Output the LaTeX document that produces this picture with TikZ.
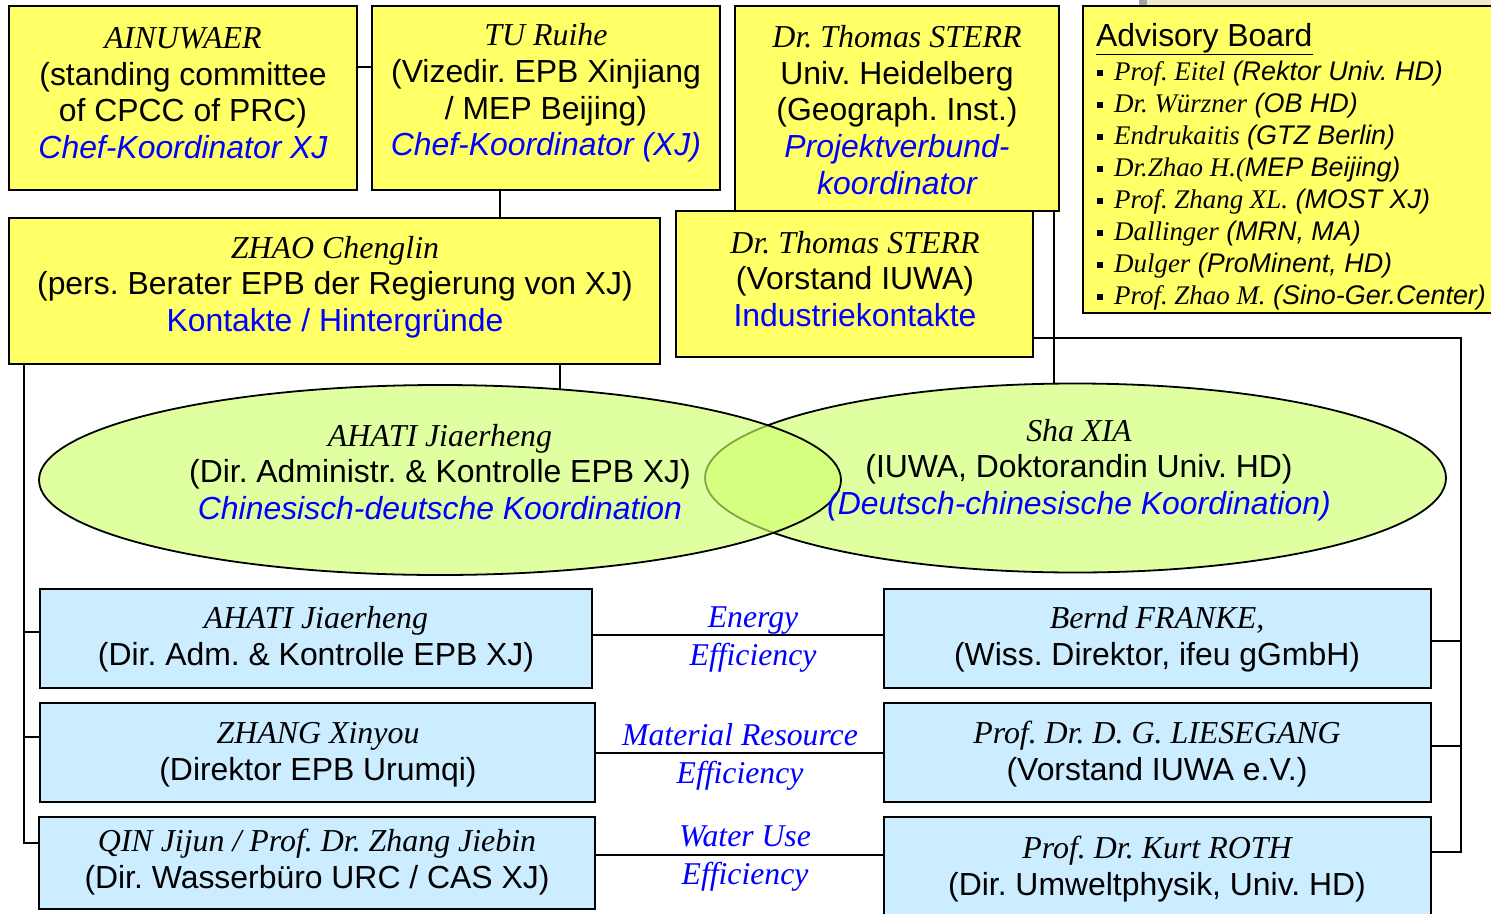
\documentclass[tikz,border=0pt]{standalone}
\usepackage{fontspec}
\setmainfont{Liberation Serif}
\setsansfont{Liberation Sans}
\usetikzlibrary{shapes.geometric}
\definecolor{byellow}{HTML}{FFFF66}
\definecolor{bblue}{HTML}{CCECFF}
\definecolor{egreen}{HTML}{E0FFA0}
\definecolor{egreenB}{HTML}{CFFF6B}
\definecolor{tblue}{HTML}{0000FF}
\definecolor{beige}{HTML}{F6E8C8}
\frenchspacing
\newcommand{\nm}[1]{{\rmfamily\itshape #1}}
\newcommand{\bl}[1]{{\color{tblue}\itshape #1}}
\newcommand{\blu}[1]{{\color{tblue}#1}}
\newcommand{\bul}{\rule[0.18em]{6pt}{6pt}\hspace{11pt}}
\newcommand{\uline}[1]{\underline{#1}}
\tikzset{
  ybox/.style={draw=black, line width=1.8pt, fill=byellow, anchor=north west, inner sep=0pt, outer sep=0pt},
  bbox/.style={draw=black, line width=1.8pt, fill=bblue, anchor=north west, inner sep=0pt, outer sep=0pt},
  txt/.style={align=center, font=\fontsize{31.9}{36.7}\selectfont\sffamily, inner sep=0pt},
  lbl/.style={align=center, font=\fontsize{31.7}{38}\selectfont\rmfamily\itshape, text=tblue, inner sep=0pt},
  conn/.style={line width=2pt, black},
  ell/.style={ellipse, draw=black, line width=1.8pt, inner sep=0pt, outer sep=0pt},
}
\begin{document}
\begin{tikzpicture}[x=1pt,y=-1pt]
\fill[white] (0,0) rectangle (1491,913);
\useasboundingbox (0,0) rectangle (1491,913);
% top artifact
\fill[gray!70] (1139,0) rectangle (1147,5);
\fill[beige] (1147,0) rectangle (1491,5);

% yellow boxes
\node[ybox, minimum width=348pt, minimum height=184pt] (b1) at (9,6) {};
\node[ybox, minimum width=348pt, minimum height=184pt] (b2) at (372,6) {};
\node[ybox, minimum width=324pt, minimum height=205pt] (b3) at (735,6) {};
\node[ybox, minimum width=357pt, minimum height=146pt] (b4) at (676,211) {};
\node[ybox, minimum width=651pt, minimum height=146pt] (zhao) at (9,218) {};
\node[ybox, minimum width=420pt, minimum height=307pt] (adv) at (1083,6) {};

% blue boxes
\node[bbox, minimum width=552pt, minimum height=99pt] (L1) at (40,589) {};
\node[bbox, minimum width=555pt, minimum height=99pt] (L2) at (40,703) {};
\node[bbox, minimum width=556pt, minimum height=92pt] (L3) at (39,817) {};
\node[bbox, minimum width=547pt, minimum height=99pt] (R1) at (884,589) {};
\node[bbox, minimum width=547pt, minimum height=99pt] (R2) at (884,703) {};
\node[bbox, minimum width=547pt, minimum height=100pt] (R3) at (884,817) {};

% ellipses
\node[ell, fill=egreen, minimum width=741pt, minimum height=189pt] (e2) at (1075.5,478) {};
\node[ell, fill=egreenB, fill opacity=0.64, minimum width=802pt, minimum height=190pt] (e1) at (440,480) {};

% texts
\node[txt] (t1) at (183,93) {\nm{AINUWAER}\\(standing committee\\of CPCC of PRC)\\\bl{Chef-Koordinator XJ}};
\node[txt] (t2) at (546,93) {\nm{TU Ruihe}\\(Vizedir. EPB Xinjiang\\/ MEP Beijing)\\\bl{Chef-Koordinator (XJ)}};
\node[txt] (t3) at (897,110) {\nm{Dr. Thomas STERR}\\Univ. Heidelberg\\(Geograph. Inst.)\\\bl{Projektverbund-}\\\bl{koordinator}};
\node[txt] (tz) at (335,287) {\nm{ZHAO Chenglin}\\(pers. Berater EPB der Regierung von XJ)\\\blu{Kontakte / Hintergründe}};
\node[txt] (t4) at (855,279) {\nm{Dr. Thomas STERR}\\(Vorstand IUWA)\\\blu{Industriekontakte}};
\node[txt] (te1) at (440,472) {\nm{AHATI Jiaerheng}\\(Dir. Administr. \& Kontrolle EPB XJ)\\\bl{Chinesisch-deutsche Koordination}};
\node[txt] (te2) at (1079,470) {\nm{Sha XIA}\\(IUWA, Doktorandin Univ. HD)\\\bl{(Deutsch-chinesische Koordination)}};
\node[txt] (tL1) at (316,639) {\nm{AHATI Jiaerheng}\\(Dir. Adm. \& Kontrolle EPB XJ)};
\node[txt] (tL2) at (318,755) {\nm{ZHANG Xinyou}\\(Direktor EPB Urumqi)};
\node[txt] (tL3) at (317,862) {\nm{QIN Jijun / Prof. Dr. Zhang Jiebin}\\(Dir. Wasserbüro URC / CAS XJ)};
\node[txt] (tR1) at (1157,639) {\nm{Bernd FRANKE,}\\(Wiss. Direktor, ifeu gGmbH)};
\node[txt] (tR2) at (1157,754) {\nm{Prof. Dr. D. G. LIESEGANG}\\(Vorstand IUWA e.V.)};
\node[txt] (tR3) at (1157,869) {\nm{Prof. Dr. Kurt ROTH}\\(Dir. Umweltphysik, Univ. HD)};

% advisory board
\node[txt, anchor=west] (advt) at (1096,39) {\uline{Advisory Board}};
\node[align=left, anchor=west, inner sep=0pt, font=\fontsize{26.9}{32}\selectfont\sffamily] (advl) at (1097,186) {%
\bul\nm{Prof. Eitel} \textit{(Rektor Univ. HD)}\\
\bul\nm{Dr. Würzner} \textit{(OB HD)}\\
\bul\nm{Endrukaitis} \textit{(GTZ Berlin)}\\
\bul\nm{Dr.Zhao H.(}\textit{MEP Beijing)}\\
\bul\nm{Prof. Zhang XL.} \textit{(MOST XJ)}\\
\bul\nm{Dallinger} \textit{(MRN, MA)}\\
\bul\nm{Dulger} \textit{(ProMinent, HD)}\\
\bul\nm{Prof. Zhao M.} \textit{(Sino-Ger.Center)}};

% middle labels
\node[lbl] (m1) at (753,640) {Energy\\Efficiency};
\node[lbl] (m2) at (740,757) {Material Resource\\Efficiency};
\node[lbl] (m3) at (745,859) {Water Use\\Efficiency};

% connectors top
\draw[conn] ([yshift=31pt]b1.east) -- ([yshift=31pt]b2.west);
\draw[conn] ([xshift=-46pt]b2.south) -- ([xshift=-46pt]b2.south |- zhao.north);
\draw[conn] (e1.37.8) -- (e1.37.8 |- zhao.south);
\draw[conn] (e2.103.4) -- (e2.103.4 |- b3.south);

% right bus
\coordinate (rbus) at (1461,852);
\draw[conn] ([yshift=-54pt]b4.east) -| (rbus) -- (rbus -| R3.east);
\draw[conn] ([yshift=-2.5pt]R1.east) -- ([yshift=-2.5pt]R1.east -| rbus);
\draw[conn] ([yshift=6.5pt]R2.east) -- ([yshift=6.5pt]R2.east -| rbus);

% left bus
\coordinate (lbus) at (24,843);
\draw[conn] (lbus |- zhao.south) -- (lbus) -- (lbus -| L3.west);
\draw[conn] ([yshift=6.5pt]L1.west) -- ([yshift=6.5pt]L1.west -| lbus);
\draw[conn] ([yshift=15.5pt]L2.west) -- ([yshift=15.5pt]L2.west -| lbus);

% middle links
\draw[conn] ([yshift=3.5pt]L1.east) -- ([yshift=3.5pt]L1.east -| R1.west);
\draw[conn] (L2.east) -- (L2.east -| R2.west);
\draw[conn] ([yshift=8pt]L3.east) -- ([yshift=8pt]L3.east -| R3.west);
\end{tikzpicture}
\end{document}
